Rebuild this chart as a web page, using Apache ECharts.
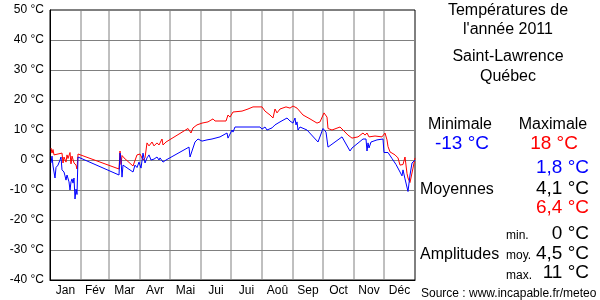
<!DOCTYPE html>
<html><head><meta charset="utf-8">
<script src="https://cdn.jsdelivr.net/npm/echarts@6/dist/echarts.min.js"></script>
<style>html,body{margin:0;padding:0;background:#fff}#c{width:600px;height:300px}</style>
</head><body><div id="c"></div><script>
const monthNames = ['Jan','Fév','Mar','Avr','Mai','Jui','Jui','Aoû','Sep','Oct','Nov','Déc'];
const monthStarts = [31,59,90,120,151,181,212,243,273,304,334];
const monthMids = [15.5,45,74.5,105,135.5,166,196.5,227.5,258,288.5,319,349.5];

const maxDays = [1,2,3,4,6,8,10,12,13,14,16,17,18,20,21,22,23,24,26,27,28,
  69,70,71,72,74,83,84,87,90,92,93,95,97,99,102,104,106,107,109,112,113,116,
  138,141,143,147,152,158,163,165,176,178,180,183,192,198,203,212,215,220,223,225,227,230,236,238,240,243,247,
  253,260,267,270,274,275,277,278,282,290,293,298,302,303,308,313,315,317,319,325,332,335,337,338,340,345,348,350,352,353,355,357,358,360,363,365];
const maxTemps = [4,2.3,3.5,1.7,2,2,2,2.3,-1,1,-0.7,1.7,0.5,2.5,-1.3,1.3,1,-1,-1.7,-3,2,
  -3,3,-1.5,1.5,0.7,-2,-1.7,1.7,2,2,0,0.7,5.7,4.7,6,4.7,4.3,5.7,5,7,5,6,
  10.5,9,10.7,11.7,12.3,12.7,13.7,13,13,15,14.3,16,16.3,17,17.7,17.7,16.3,15,14,17,15.7,17,17.7,18,17.3,18,17.3,
  15,13.7,12.3,12.7,15.7,16,14.3,10.5,10,11,10,8.3,7.3,7,7.7,9,8.3,9,7.7,8,7.7,9,6.7,4.5,2.7,1.7,0.7,-1.7,-2.3,-1.5,1,-4.5,-6,-7.5,-2.7,0.7,2.3];

const minDays = [1,2,3,5,6,8,10,11,12,14,15,16,17,19,20,21,22,23,24,25,26,27,28,
  69,70,71,72,73,83,85,87,89,91,93,95,97,99,101,104,107,109,110,113,116,
  139,140,145,148,152,157,162,170,177,178,182,183,185,210,212,215,217,222,225,230,232,237,240,243,245,246,247,248,250,257,
  268,273,274,276,278,292,300,302,313,316,317,318,319,321,327,333,334,338,342,346,350,352,353,354,355,357,358,360,362,365];
const minTemps = [-1,1.3,-2,-6,-2.5,-1.7,0,1,-3.3,-4,-5.3,-6.7,-5,-7.3,-10,-7.3,-6.3,-7.7,-6,-13,-9.7,-11.5,1,
  -5,2.3,0,-5.7,-1.7,-4,-1.7,-2.5,-0.7,-2.7,2.3,-1,0.7,1.7,0,0.3,1,0,0.7,-0.7,0,
  4.3,1,6,7,6.3,6.7,7,7.7,9,7.3,10,9.3,11,11,10.3,11,10,10.7,11.7,12.7,12.3,14,13,12.3,14,11.7,12.7,10,11,10,
  6,10.5,11,9.3,4.3,7.7,3,4,7,7,3,5.7,4,6,6.7,7,2.5,2.5,0.5,-1.5,-4,-5.3,-3.3,-3.5,-6.3,-6.7,-10.5,-5,-1,0];

const maxData = maxDays.map((d, i) => [d, maxTemps[i]]);
const minData = minDays.map((d, i) => [d, minTemps[i]]);

const chart = echarts.init(document.getElementById('c'));
const FONT = 'Liberation Sans, Arial, sans-serif';
function txt(x, y, text, size, color, align) {
  return {type: 'text', x: x, y: y, z: 10, style: {text: text, fontFamily: FONT, fontSize: size,
    fill: color, align: align, verticalAlign: 'middle'}};
}
const GRID_COLOR = '#808080';
chart.setOption({
  animation: false,
  backgroundColor: '#ffffff',
  grid: {left: 50, top: 10, width: 365, height: 270, show: true, borderColor: '#000000', borderWidth: 1, backgroundColor: 'rgba(0,0,0,0)'},
  xAxis: {
    type: 'value', min: 0, max: 365,
    axisLine: {show: true, onZero: false, lineStyle: {color: '#000000', width: 1}},
    axisTick: {show: false},
    splitLine: {show: false},
    axisLabel: {customValues: monthMids, color: '#000000', fontFamily: FONT, fontSize: 12, margin: 5,
      formatter: function (v) { return monthNames[monthMids.indexOf(v)]; }}
  },
  yAxis: {
    type: 'value', min: -40, max: 50, interval: 10,
    axisLine: {show: true, lineStyle: {color: '#000000', width: 1}},
    axisTick: {show: false},
    splitLine: {show: true, showMinLine: false, showMaxLine: false, lineStyle: {color: GRID_COLOR, width: 1, type: 'solid'}},
    axisLabel: {color: '#000000', fontFamily: FONT, fontSize: 12, margin: 6,
      formatter: function (v) { return v + ' °C'; }}
  },
  series: [
    {type: 'custom', silent: true, z: 1,
      data: monthStarts.map(function (d) { return [d, 50]; }),
      renderItem: function (params, api) {
        const a = api.coord([api.value(0), 50]);
        const b = api.coord([api.value(0), -40]);
        return {type: 'line', shape: {x1: a[0], y1: a[1], x2: b[0], y2: b[1]},
          style: {stroke: GRID_COLOR, lineWidth: 1}};
      }},
    {type: 'line', data: maxData, showSymbol: false, lineStyle: {color: '#ff0000', width: 1}, itemStyle: {color: '#ff0000'}, z: 3},
    {type: 'line', data: minData, showSymbol: false, lineStyle: {color: '#0000ff', width: 1}, itemStyle: {color: '#0000ff'}, z: 4}
  ],
  graphic: [
    txt(508, 11, 'Températures de', 16, '#000', 'center'),
    txt(508, 30, "l'année 2011", 16, '#000', 'center'),
    txt(508, 57, 'Saint-Lawrence', 16, '#000', 'center'),
    txt(508, 77, 'Québec', 16, '#000', 'center'),
    txt(460, 125, 'Minimale', 16, '#000', 'center'),
    txt(553, 125, 'Maximale', 16, '#000', 'center'),
    txt(462, 144, '-13 °C', 19, '#0000ff', 'center'),
    txt(554, 144, '18 °C', 19, '#ff0000', 'center'),
    txt(589, 168, '1,8 °C', 19, '#0000ff', 'right'),
    txt(420, 190, 'Moyennes', 16, '#000', 'left'),
    txt(589, 189, '4,1 °C', 19, '#000', 'right'),
    txt(589, 208, '6,4 °C', 19, '#ff0000', 'right'),
    txt(506, 236, 'min.', 12, '#000', 'left'),
    txt(589, 234, '0 °C', 19, '#000', 'right'),
    txt(420, 255, 'Amplitudes', 16, '#000', 'left'),
    txt(506, 256, 'moy.', 12, '#000', 'left'),
    txt(589, 254, '4,5 °C', 19, '#000', 'right'),
    txt(506, 276, 'max.', 12, '#000', 'left'),
    txt(589, 273, '11 °C', 19, '#000', 'right'),
    txt(421, 294, 'Source : www.incapable.fr/meteo', 12, '#000', 'left')
  ]
});
</script></body></html>
